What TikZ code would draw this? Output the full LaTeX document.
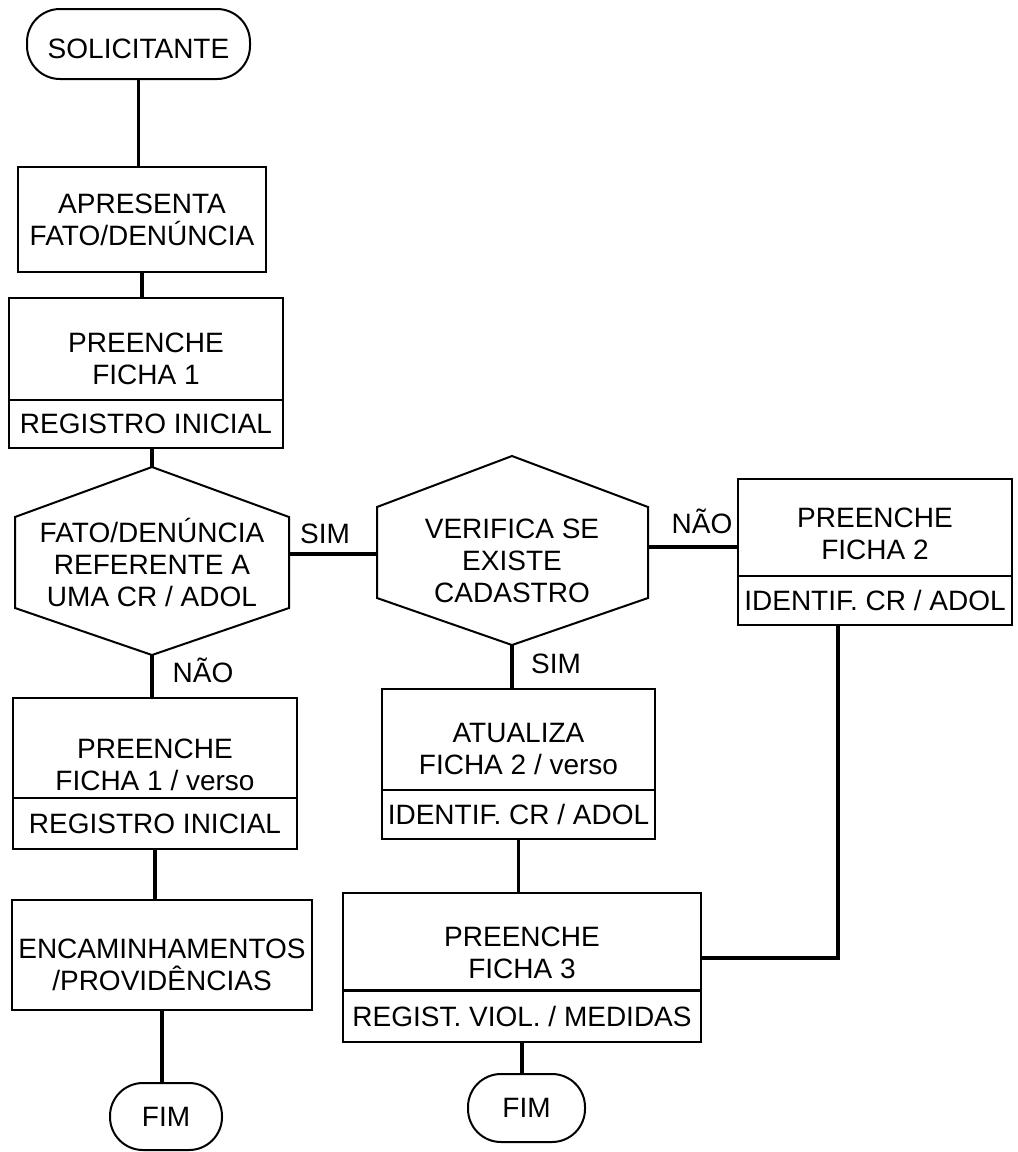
\documentclass[tikz,border=0pt]{standalone}
\usepackage{fontspec}
\setmainfont{Liberation Sans}
\newcommand{\sdn}[1]{\rule{0pt}{#1pt}}
\begin{document}
\begin{tikzpicture}[x=1pt,y=-1pt,
  every node/.style={font=\fontsize{28}{32}\selectfont, inner sep=0pt, align=center},
  blk/.style={draw, line width=2pt, inner xsep=2pt},
  termin/.style={draw, line width=2pt, rounded corners=33pt},
  hexs/.style={line width=2pt, line join=miter},
  conn/.style={line width=3.2pt},
  lbl/.style={anchor=base}
]
\useasboundingbox (0,0) rectangle (1018,1152);

% ---- left column ----
\node[termin, minimum width=223, minimum height=70] (sol) at (138.5,44) {\sdn{29}SOLICITANTE};
\node[blk, minimum width=248, minimum height=105] (apr) at (142,219.5) {APRESENTA\\FATO/DENÚNCIA};
\node[blk, minimum width=274, minimum height=102] (f1) at (146,349) {\sdn{39}PREENCHE\\FICHA 1};
\node[blk, minimum width=274, minimum height=48] (f1b) at (146,424) {REGISTRO INICIAL};

\coordinate (h1n) at (152,467);
\coordinate (h1ne) at (289,517);
\coordinate (h1se) at (289,608);
\coordinate (h1s) at (152,655);
\coordinate (h1sw) at (15,608);
\coordinate (h1nw) at (15,517);
\coordinate (h1e) at (289,554);
\draw[hexs] (h1n) -- (h1ne) -- (h1se) -- (h1s) -- (h1sw) -- (h1nw) -- cycle;
\node (h1t) at (152,562) {FATO/DENÚNCIA\\REFERENTE A\\UMA CR / ADOL};

\node[blk, minimum width=284, minimum height=100] (fv) at (155,748) {\sdn{53}PREENCHE\\FICHA 1 / verso};
\node[blk, minimum width=284, minimum height=51] (fvb) at (155,823.5) {REGISTRO INICIAL};
\node[blk, minimum width=300, minimum height=110] (enc) at (162,955) {\sdn{39}ENCAMINHAMENTOS\\/PROVIDÊNCIAS};
\node[termin, minimum width=112, minimum height=67] (fim1) at (166,1116.5) {FIM};

% ---- middle column ----
\coordinate (h2n) at (512,456);
\coordinate (h2ne) at (648,507);
\coordinate (h2se) at (648,598);
\coordinate (h2s) at (512,645);
\coordinate (h2sw) at (377,598);
\coordinate (h2nw) at (377,507);
\coordinate (h2w) at (377,554);
\coordinate (h2e) at (648,547);
\draw[hexs] (h2n) -- (h2ne) -- (h2se) -- (h2s) -- (h2sw) -- (h2nw) -- cycle;
\node (h2t) at (512,561) {VERIFICA SE\\EXISTE\\CADASTRO};

\node[blk, minimum width=273, minimum height=101] (atu) at (518.5,739.5) {\sdn{39}ATUALIZA\\FICHA 2 / verso};
\node[blk, minimum width=273, minimum height=49] (atub) at (518.5,814.5) {IDENTIF. CR / ADOL};
\node[blk, minimum width=358, minimum height=97] (f3) at (522,941.5) {\sdn{43}PREENCHE\\FICHA 3};
\node[blk, minimum width=358, minimum height=51] (f3b) at (522,1016) {REGIST. VIOL. / MEDIDAS};
\node[termin, minimum width=117, minimum height=68] (fim2) at (526.5,1108) {FIM};

% ---- right column ----
\node[blk, minimum width=274, minimum height=97] (f2) at (875,527.5) {\sdn{32}PREENCHE\\FICHA 2};
\node[blk, minimum width=274, minimum height=49] (f2b) at (875,600.5) {IDENTIF. CR / ADOL};
\coordinate (j) at (838,958);

% ---- connectors ----
\draw[conn] (sol.south) -- (sol.south |- apr.north);
\draw[conn] (apr.south) -- (apr.south |- f1.north);
\draw[conn] (f1b.south -| h1n) -- (h1n);
\draw[conn] (h1s) -- (h1s |- fv.north);
\draw[conn] (fvb.south) -- (fvb.south |- enc.north);
\draw[conn] (enc.south) -- (enc.south |- fim1.north);
\draw[conn] (h1e) -- (h2w);
\draw[conn] (h2e) -- (h2e -| f2.west);
\draw[conn] (h2s) -- (h2s |- atu.north);
\draw[conn] (atub.south) -- (atub.south |- f3.north);
\draw[conn] (f3b.south) -- (f3b.south |- fim2.north);
\draw[conn, line join=miter] (f2b.south -| j) -- (j) -- (j -| f3.east);

% ---- labels ----
\node[lbl] (lsim1) at (325,543) {SIM};
\node[lbl] (lnao1) at (203,682) {NÃO};
\node[lbl] (lsim2) at (556,673) {SIM};
\node[lbl] (lnao2) at (702,533) {NÃO};
\end{tikzpicture}
\end{document}
